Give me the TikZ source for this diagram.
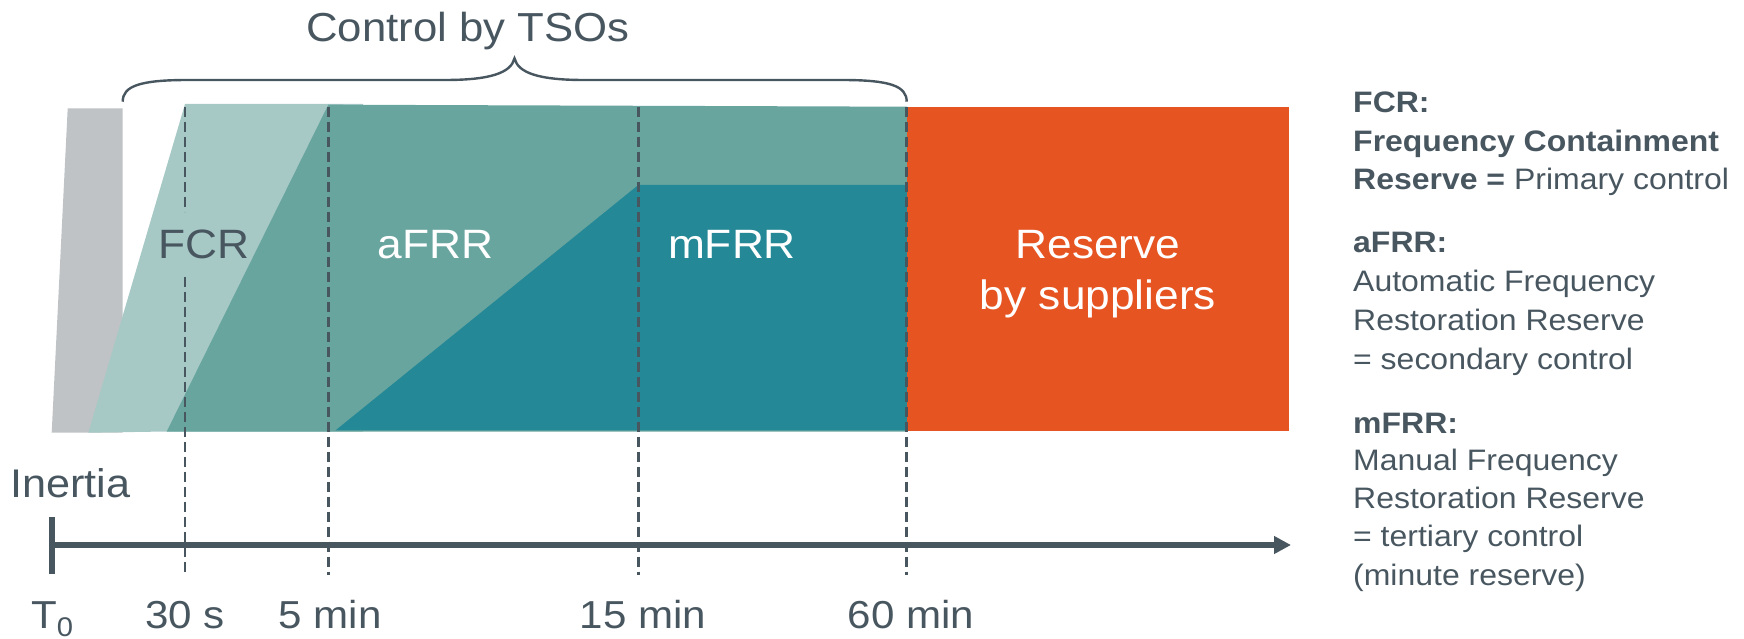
\documentclass[tikz,border=0pt]{standalone}
\usepackage{fontspec}
\setmainfont{Liberation Sans}[FakeStretch=1.08]
\usetikzlibrary{arrows.meta}

\definecolor{inertiagray}{RGB}{191,195,197}
\definecolor{fcrteal}{RGB}{167,201,198}
\definecolor{afrrteal}{RGB}{105,165,159}
\definecolor{mfrrteal}{RGB}{36,136,150}
\definecolor{supplyorange}{RGB}{230,84,34}
\definecolor{ink}{RGB}{72,86,96}

\begin{document}
\begin{tikzpicture}[x=1pt,y=-1pt,
  lbl/.style={inner sep=0pt, anchor=base, font=\fontsize{41}{49}\selectfont},
  darklbl/.style={lbl, text=ink},
  whitelbl/.style={lbl, text=white},
  ticklbl/.style={inner sep=0pt, anchor=base, text=ink, font=\fontsize{39}{47}\selectfont},
  legend/.style={inner sep=0pt, anchor=base west, text=ink, font=\fontsize{29.6}{35}\selectfont},
  timeline/.style={draw=ink, line width=2.6pt, dash pattern=on 10pt off 5pt},
  bracestyle/.style={draw=ink, line width=2.4pt},
  axisstyle/.style={draw=ink, line width=6pt, -{Triangle[length=17pt,width=17pt]}},
]
\useasboundingbox (0,0) rectangle (1744,639);

% reserve areas
\fill[inertiagray] (51.7,432.7) -- (67.7,108.3) -- (122.7,108.3) -- (122.7,432.7) -- cycle;
\fill[fcrteal] (88.3,432.7) -- (185,104) -- (363,104) -- (363,431.5) -- (166.7,431.5) -- cycle;
\fill[afrrteal] (166.7,431.5) -- (328.3,104.7) -- (907,106.7) -- (907,431.5) -- cycle;
\fill[mfrrteal] (335.6,430.3) -- (638.3,185) -- (907,185) -- (907,430.3) -- cycle;
\fill[supplyorange] (906.7,107.3) rectangle (1289,430.7);

% time marks
\coordinate (m30t) at (185,106.7);
\coordinate (m30a) at (185,211.7);
\coordinate (m30c) at (185,276.7);
\coordinate (m30b) at (185,575);
\coordinate (m5t) at (328.5,106.7);
\coordinate (m5b) at (328.5,575);
\coordinate (m15t) at (638.3,106.7);
\coordinate (m15b) at (638.3,575);
\coordinate (m60t) at (906.7,106.7);
\coordinate (m60b) at (906.7,575);
\draw[timeline] (m30t) -- (m30a);
\draw[timeline] (m30c) -- (m30b);
\draw[timeline] (m5t) -- (m5b);
\draw[timeline] (m15t) -- (m15b);
\draw[timeline] (m60t) -- (m60b);

% labels inside the areas
\node[darklbl] (fcr) at (204,258.3) {FCR};
\node[whitelbl] (afrr) at (435.5,258.3) {aFRR};
\node[whitelbl] (mfrr) at (732,258.3) {mFRR};
\node[whitelbl] (res1) at (1098,258.3) {Reserve};
\node[whitelbl] (res2) at (1098,309) {by suppliers};

% brace over the TSO-controlled reserves
\coordinate (bl) at (122.7,101.7);
\coordinate (bm) at (514.5,58.3);
\coordinate (br) at (906.7,101.7);
\draw[bracestyle] (bl) .. controls (122.7,86) and (140,80) .. (188,80)
  -- (445,80) .. controls (490,80) and (511,73) .. (bm)
  .. controls (518,73) and (539,80) .. (584,80)
  -- (842,80) .. controls (890,80) and (906.7,86) .. (br);
\node[darklbl, font=\fontsize{40.5}{48}\selectfont] (tso) at (468,41.7) {Control by TSOs};

% time axis
\coordinate (t0) at (52,545);
\coordinate (tend) at (1291,545);
\coordinate (ticktop) at (52,517);
\coordinate (tickbot) at (52,574);
\draw[axisstyle] (t0) -- (tend);
\draw[draw=ink, line width=5.5pt] (ticktop) -- (tickbot);

\node[inner sep=0pt, anchor=base west, text=ink, font=\fontsize{40}{48}\selectfont] (inertia) at (10,497) {Inertia};
\node[ticklbl, anchor=base west] (tzero) at (31,628.3) {T\raisebox{-8pt}{\fontsize{27}{29}\selectfont 0}};
\node[ticklbl] (l30) at (185,628.3) {30 s};
\node[ticklbl] (l5) at (330,628.3) {5 min};
\node[ticklbl] (l15) at (643,628.3) {15 min};
\node[ticklbl] (l60) at (911,628.3) {60 min};

% legend
\node[legend] (g1) at (1353,112.7) {\textbf{FCR:}};
\node[legend] (g2) at (1353,151.7) {\textbf{Frequency Containment}};
\node[legend] (g3) at (1353,189.3) {\textbf{Reserve =} Primary control};
\node[legend] (g4) at (1353,252.7) {\textbf{aFRR:}};
\node[legend] (g5) at (1353,291.7) {Automatic Frequency};
\node[legend] (g6) at (1353,330) {Restoration Reserve};
\node[legend] (g7) at (1353,369) {= secondary control};
\node[legend] (g8) at (1353,433.3) {\textbf{mFRR:}};
\node[legend] (g9) at (1353,470.7) {Manual Frequency};
\node[legend] (g10) at (1353,508.3) {Restoration Reserve};
\node[legend] (g11) at (1353,546.7) {= tertiary control};
\node[legend] (g12) at (1353,585) {(minute reserve)};
\end{tikzpicture}
\end{document}
